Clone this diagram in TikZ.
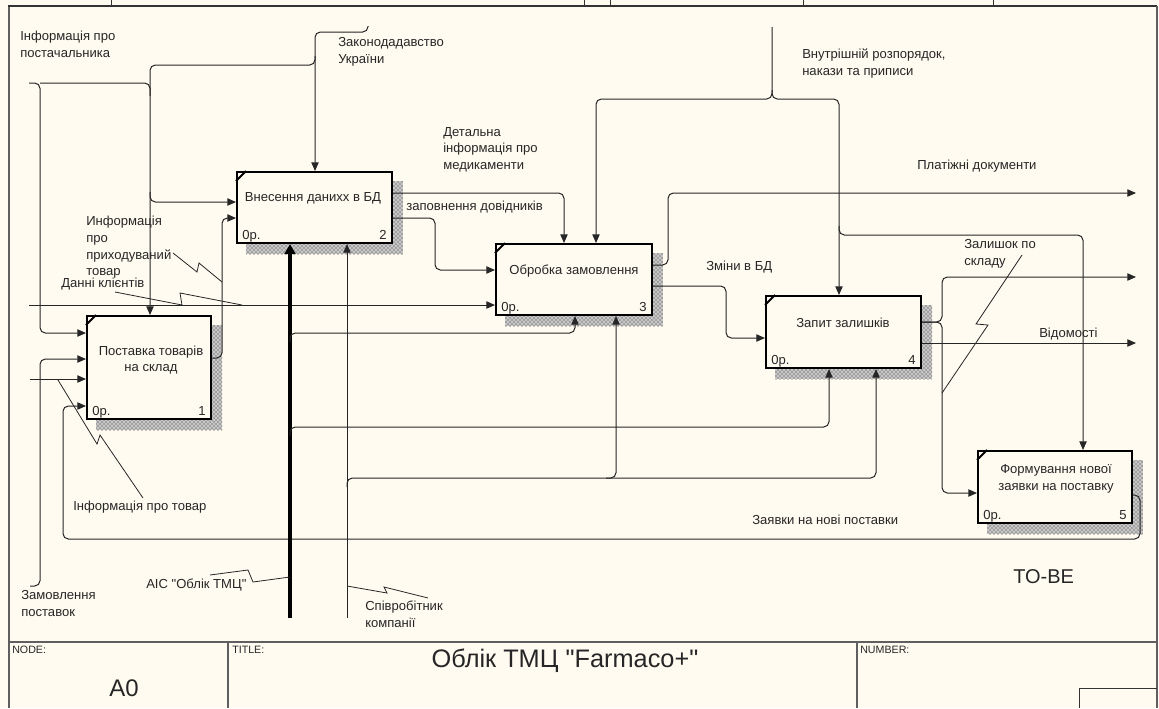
\documentclass[tikz,border=0pt]{standalone}
\usepackage{fontspec}
\setmainfont{Liberation Sans}[Ligatures=TeXOff]
\usetikzlibrary{arrows.meta,patterns}
\definecolor{paper}{RGB}{255,251,240}
\definecolor{framec}{RGB}{95,95,95}
\pgfdeclarelayer{bg}
\pgfsetlayers{bg,main}
\begin{document}
\begin{tikzpicture}[x=0.75pt,y=-0.75pt,
  every node/.style={font=\fontsize{9.8}{12.5}\selectfont, text=black!85},
  box/.style={draw=black, line width=1.5pt, fill=paper, inner sep=0pt},
  boxtxt/.style={align=center, inner sep=0pt},
  conn/.style={draw=black!85, line width=0.75pt, rounded corners=4pt},
  arr/.style={conn, -{Triangle[length=6.5pt,width=5.5pt]}},
  mech/.style={draw=black, line width=2.5pt, -{Triangle[length=7.5pt,width=8pt]}},
  lbl/.style={inner sep=0pt, align=left},
  squig/.style={draw=black!85, line width=0.6pt},
  cnum/.style={inner sep=0pt},
  small/.style={inner sep=0pt, anchor=north west, font=\fontsize{8}{9}\selectfont}]
\useasboundingbox (0,0) rectangle (1159,708);

% ---- boxes ----
\node[box, minimum width=93pt, minimum height=77.25pt] (b1) at (149,367.5) {};
\node[box, minimum width=116.25pt, minimum height=53.25pt] (b2) at (314.5,207.5) {};
\node[box, minimum width=117pt, minimum height=53.25pt] (b3) at (574,279.5) {};
\node[box, minimum width=116.25pt, minimum height=54pt] (b4) at (843.5,332) {};
\node[box, minimum width=115.5pt, minimum height=54pt] (b5) at (1055,487) {};

\begin{pgfonlayer}{bg}
  \fill[paper] (0,0) rectangle (1159,708);
  \foreach \b in {b1,b2,b3,b4,b5}{
    \fill[black!22]
      ([shift={(10,10)}]\b.north west) rectangle ([shift={(10,10)}]\b.south east);
    \fill[pattern=crosshatch dots, pattern color=black!85]
      ([shift={(10,10)}]\b.north west) rectangle ([shift={(10,10)}]\b.south east);
  }
\end{pgfonlayer}

\foreach \b in {b1,b2,b3,b4,b5}
  \draw[line width=1.4pt] ([shift={(0,10)}]\b.north west) -- ([shift={(10,0)}]\b.north west);

\node[boxtxt] (t1) at (151,360) {Поставка товарів\\на склад};
\node[boxtxt] (t2) at (313,198) {Внесення данихх в БД};
\node[boxtxt] (t3) at (574,271) {Обробка замовлення};
\node[boxtxt] (t4) at (843,323) {Запит залишків};
\node[boxtxt] (t5) at (1056,479) {Формування нової\\заявки на поставку};

\foreach \b/\n in {b1/1,b2/2,b3/3,b4/4,b5/5}{
  \node[cnum, anchor=base west] (c\n) at ([shift={(6,-5)}]\b.south west) {0р.};
  \node[cnum, anchor=base east] (n\n) at ([shift={(-6,-5)}]\b.south east) {\n};
}

% ---- free ends ----
\coordinate (srcPost) at (29,83);
\coordinate (srcZak) at (368,26);
\coordinate (srcKl) at (29,305);
\coordinate (srcZam) at (30,586);
\coordinate (srcTov) at (30,379);
\coordinate (srcAis) at (290,618);
\coordinate (srcSpiv) at (347,618);
\coordinate (srcVn) at (772,27);
\coordinate (sinkPlat) at (1136,193);
\coordinate (sinkZal) at (1136,277);
\coordinate (sinkVid) at (1136,343);

% ---- connectors ----
\draw[arr] (srcZak) -- (368,32) -- (315,32) -- (b2.north -| 315,0);
\draw[arr] (315,56) -- (315,65) -- (150,65) -- (b1.north -| 150,0);
\draw[arr] (srcPost) -- (40,83) -- (40,333) -- (b1.west |- 0,333);
\draw[conn] (40,83) -- (150,83) -- (150,96);
\draw[arr] (150,192) -- (150,202) -- (b2.west |- 0,202);
\draw[arr] (b1.east |- 0,358) -- (222,358) -- (222,218) -- (b2.west |- 0,218);
\draw[arr] (srcKl) -- (b3.west |- 0,305);
\draw[arr] (srcZam) -- (40,586) -- (40,359) -- (b1.west |- 0,359);
\draw[arr] (srcTov) -- (b1.west |- 0,379);
\draw[arr] (b5.east |- 0,495) -- (1140,495) -- (1140,539) -- (63,539) -- (63,406) -- (b1.west |- 0,406);
\draw[mech] (srcAis) -- (b2.south -| 290,0);
\draw[arr] (290,342) -- (290,333) -- (575,333) -- (b3.south -| 575,0);
\draw[arr] (290,436) -- (290,427) -- (829,427) -- (b4.south -| 829,0);
\draw[arr] (srcSpiv) -- (b2.south -| 347,0);
\draw[arr] (347,487) -- (347,478) -- (876,478) -- (b4.south -| 876,0);
\draw[arr] (606,478) -- (616,478) -- (b3.south -| 616,0);
\draw[arr] (b2.east |- 0,193) -- (564,193) -- (b3.north -| 564,0);
\draw[arr] (b2.east |- 0,218) -- (435,218) -- (435,270) -- (b3.west |- 0,270);
\draw[arr] (srcVn) -- (772,99) -- (596,99) -- (b3.north -| 596,0);
\draw[arr] (772,90) -- (772,99) -- (839,99) -- (b4.north -| 839,0);
\draw[arr] (839,226) -- (839,235) -- (1083,235) -- (b5.north -| 1083,0);
\draw[arr] (b3.east |- 0,265) -- (668,265) -- (668,193) -- (sinkPlat);
\draw[arr] (b3.east |- 0,286) -- (726,286) -- (726,338) -- (b4.west |- 0,338);
\draw[arr] (b4.east |- 0,322) -- (942,322) -- (942,277) -- (sinkZal);
\draw[arr] (b4.east |- 0,322) -- (942,322) -- (942,493) -- (b5.west |- 0,493);
\draw[arr] (b4.east |- 0,343) -- (sinkVid);

% ---- labels ----
\node[lbl, anchor=north west] (lPost) at (20,31) {Інформація про\\постачальника};
\node[lbl, anchor=north west] (lZak) at (338,37) {Законодадавство\\України};
\node[lbl, anchor=north west] (lDet) at (443,127) {Детальна\\інформація про\\медикаменти};
\node[lbl, anchor=west] (lZap) at (406,207) {заповнення довідників};
\node[lbl, anchor=north west] (lVn) at (802,49) {Внутрішній розпорядок,\\накази та приписи};
\node[lbl, anchor=west] (lPlat) at (917,166) {Платіжні документи};
\node[lbl, anchor=west] (lZm) at (706,267) {Зміни в БД};
\node[lbl, anchor=north west] (lZal) at (964,239) {Залишок по\\складу};
\node[lbl, anchor=west] (lVid) at (1039,334) {Відомості};
\node[lbl, anchor=north west] (lPrih) at (86,216) {Информація\\про\\приходуваний\\товар};
\node[lbl, anchor=west] (lKl) at (61,284) {Данні клієнтів};
\node[lbl, anchor=west] (lTov) at (73,507) {Інформація про товар};
\node[lbl, anchor=north west] (lZam) at (21,590) {Замовлення\\поставок};
\node[lbl, anchor=west] (lAis) at (146,585) {АІС "Облік ТМЦ"};
\node[lbl, anchor=north west] (lSpiv) at (365,601) {Співробітник\\компанії};
\node[lbl, anchor=west] (lZaiv) at (752,520) {Заявки на нові поставки};
\node[lbl, anchor=west, font=\fontsize{15}{18}\selectfont] (tobe) at (1013,577) {TO-BE};

% ---- squiggles ----
\draw[squig] (173,253) -- (197,272) -- (199,263) -- (222,282);
\draw[squig] (115,292) -- (182,305) -- (180,293) -- (242,305);
\draw[squig] (143,498) -- (100,435) -- (97,444) -- (58,380);
\draw[squig] (210,575) -- (248,570) -- (253,582) -- (290,577);
\draw[squig] (347,586) -- (387,593) -- (384,587) -- (428,598);
\draw[squig] (1022,255) -- (976,324) -- (988,325) -- (942,393);

% ---- frame ----
\draw[framec, line width=2pt] (9,6) -- (9,708);
\draw[black!80, line width=1pt] (8,6) -- (1157,6);
\draw[framec, line width=2.2pt] (1157,6) -- (1157,708);
\draw[framec, line width=2.2pt] (9,642) -- (1157,642);
\draw[framec, line width=1pt] (228,642) -- (228,708);
\draw[framec, line width=1pt] (857,642) -- (857,708);
\draw[black!80, line width=0.75pt] (1079,708) |- (1157,688);
\foreach \x in {111,584,610,803,993} \draw[black!80, line width=0.6pt] (\x,0) -- (\x,6);

\node[small] (hNode) at (12,646) {NODE:};
\node[small] (hTitle) at (232,646) {TITLE:};
\node[small] (hNum) at (860,646) {NUMBER:};
\node[font=\fontsize{18}{20}\selectfont, inner sep=0pt] (a0) at (124,688) {A0};
\node[font=\fontsize{19}{22}\selectfont, inner sep=0pt] (title) at (565,661) {Облік ТМЦ "Farmaco+"};
\end{tikzpicture}
\end{document}
